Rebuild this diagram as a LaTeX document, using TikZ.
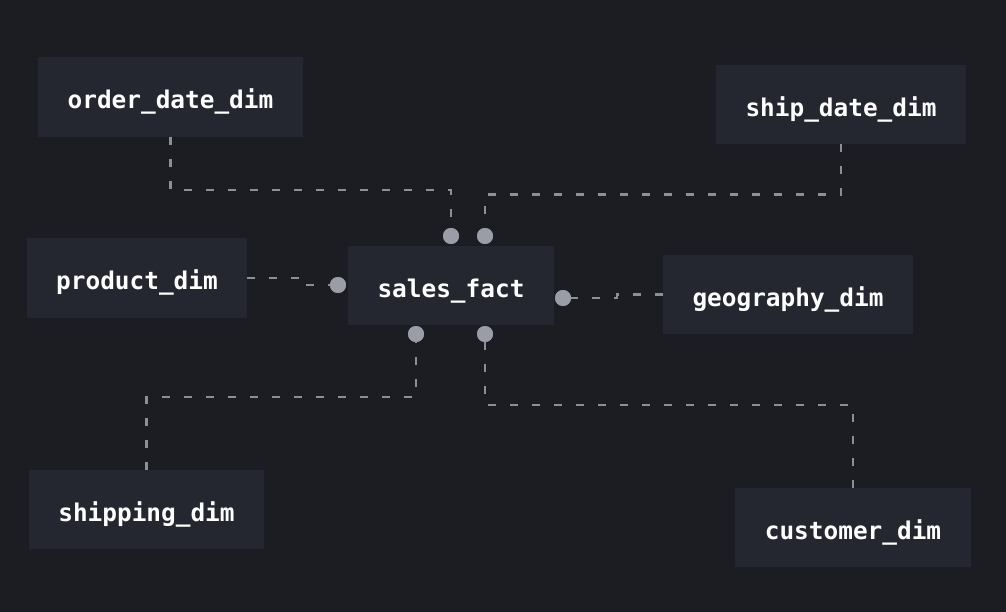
\documentclass[tikz,border=0pt]{standalone}
\usepackage{fontspec}
\setmonofont{DejaVu Sans Mono}
\definecolor{bg}{HTML}{1C1D22}
\definecolor{boxfill}{HTML}{252730}
\definecolor{linegray}{HTML}{8C8F98}
\definecolor{dotgray}{HTML}{9B9DA6}
\begin{document}
\begin{tikzpicture}[x=1pt,y=-1pt,
  tbl/.style={fill=boxfill, draw=none, inner sep=0pt, text height=28pt, text depth=4.5pt, font=\ttfamily\bfseries\fontsize{24.4}{28}\selectfont, text=white},
  link/.style={draw=linegray, line width=2.4pt, dash pattern=on 8pt off 14pt},
  enddot/.style={circle, fill=dotgray, draw=none, minimum size=16pt, inner sep=0pt}]
\fill[bg] (0,0) rectangle (1006,612);
\useasboundingbox (0,0) rectangle (1006,612);
% tables
\node[tbl, minimum width=265pt, minimum height=80pt] (order) at (170.5,97) {order\_date\_dim};
\node[tbl, minimum width=250pt, minimum height=79pt] (ship) at (841,104.5) {ship\_date\_dim};
\node[tbl, minimum width=220pt, minimum height=80pt] (product) at (137,278) {product\_dim};
\node[tbl, minimum width=206pt, minimum height=79pt] (fact) at (451,285.5) {sales\_fact};
\node[tbl, minimum width=250pt, minimum height=79pt] (geo) at (788,294.5) {geography\_dim};
\node[tbl, minimum width=235pt, minimum height=79pt] (shipping) at (146.5,509.5) {shipping\_dim};
\node[tbl, minimum width=236pt, minimum height=79pt] (customer) at (853,527.5) {customer\_dim};
% end dots
\node[enddot] (d1) at (451,236) {};
\node[enddot] (d2) at (485,236) {};
\node[enddot] (d3) at (338,285) {};
\node[enddot] (d4) at (563,298) {};
\node[enddot] (d5) at (416,334) {};
\node[enddot] (d6) at (485,334) {};
% connectors
\draw[link] (order.south) -- ++(0,53) -| (d1.center);
\draw[link] (ship.south) -- ++(0,50.5) -| (d2.center);
\draw[link] (product.east) -- ++(52,0) |- (d3.center);
\draw[link] (geo.west) -- ++(-46,0) |- (d4.center);
\draw[link] (shipping.north) -- ++(0,-73) -| (d5.center);
\draw[link] (customer.north) -- ++(0,-83) -| (d6.center);
% redraw dots on top
\foreach \d in {d1,d2,d3,d4,d5,d6}{\fill[dotgray] (\d.center) circle (8pt);}
\end{tikzpicture}
\end{document}
